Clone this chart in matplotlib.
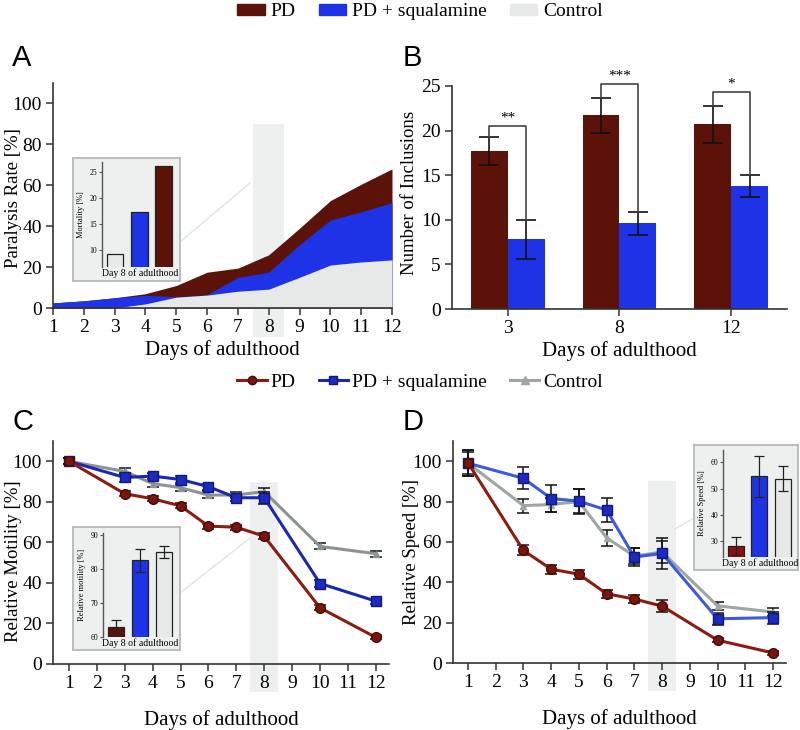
import matplotlib
matplotlib.use("Agg")
import matplotlib.pyplot as plt
from matplotlib.patches import Patch
from matplotlib.lines import Line2D
import numpy as np

plt.rcParams['font.family'] = ['Liberation Serif', 'DejaVu Serif']

# ---- data ----
days_a = [1, 2, 3, 4, 5, 6, 7, 8, 9, 10, 11, 12]
para_pd = [2.5, 3.5, 5, 7, 11, 17.5, 19.5, 26, 39, 52.5, 60.5, 68]
para_sq = [2.5, 3.5, 5, 6.2, 5.5, 6.5, 15, 17.5, 31, 43, 47, 51.5]
para_ctrl = [0, 0, 0, 2, 5.3, 6.3, 8.2, 9.2, 15, 21, 22.5, 23.5]
mort_vals = [9.2, 17.4, 26.3]  # control, PD + squalamine, PD

incl_days = ['3', '8', '12']
incl_pd = [17.7, 21.7, 20.7]
incl_pd_err = [1.6, 1.95, 2.1]
incl_sq = [7.8, 9.6, 13.8]
incl_sq_err = [2.2, 1.25, 1.2]
incl_stars = ['**', '***', '*']
incl_bracket = [20.5, 25.2, 24.3]

days_c = [1, 3, 4, 5, 6, 7, 8, 10, 12]
mot_pd = [100, 84, 81.5, 78, 68, 67.5, 63, 27.7, 13.1]
mot_pd_err = [1.5, 1.2, 1.2, 1.2, 1.2, 1.2, 1.5, 1.2, 1]
mot_sq = [100, 92, 92.7, 91, 87.5, 82, 82, 39.7, 31]
mot_sq_err = [1.5, 2, 1.5, 1.5, 1.5, 1.5, 3, 1.5, 1.2]
mot_ctrl = [100, 95, 89, 87, 83.3, 83.4, 85, 58, 54.4]
mot_ctrl_err = [1.5, 1.5, 1.5, 1.5, 1.5, 1.5, 2, 1.5, 1.5]
mot_inset = [63, 82.5, 85]  # PD, PD + squalamine, control
mot_inset_err = [2, 3.3, 1.8]

spd_pd = [99.2, 55.8, 46.5, 44, 34.3, 31.7, 28.2, 11.3, 5]
spd_pd_err = [6.5, 2.5, 2.2, 2.2, 2, 2, 3, 1, 0.8]
spd_sq = [99, 91.5, 81.5, 80.2, 75.8, 52.5, 54.3, 21.9, 22.5]
spd_sq_err = [5.5, 5.5, 6.5, 6, 6, 4.5, 7.5, 3, 3]
spd_ctrl = [99, 78, 78.5, 80, 62, 53, 55, 28.3, 25.3]
spd_ctrl_err = [6.5, 3.5, 3.5, 6, 4, 4, 5.5, 2, 2]
spd_inset = [28.2, 54.7, 53.8]
spd_inset_err = [3.5, 7.7, 4.8]

# colours
c_pd = '#5a1209'
c_sq = '#1f33e6'
c_ctrl = '#e7e9e9'
band_col = '#eef0f0'
frame_face = '#eef0f0'
frame_edge = '#b4b9b9'

fig = plt.figure(figsize=(8, 7.3), dpi=100)
W, H = 800, 730


def fpos(x0, y0, x1, y1):
    # pixel box (left, top, right, bottom) -> figure fraction rect
    return [x0 / W, 1 - y1 / H, (x1 - x0) / W, (y1 - y0) / H]


def style(ax, fs=14):
    for s in ['top', 'right']:
        ax.spines[s].set_visible(False)
    for s in ['left', 'bottom']:
        ax.spines[s].set_color('#333333')
        ax.spines[s].set_linewidth(1.2)
    ax.tick_params(direction='out', length=5, width=1.1, color='#333333',
                   labelsize=fs, pad=3)


def ylab(ax, text, right_px, left_px, width_px, y=0.5):
    # place y label so its right edge sits at a given pixel column
    ax.set_ylabel(text, fontsize=13.5)
    ax.yaxis.set_label_coords((right_px - left_px) / width_px, y)


def band(ax):
    r = plt.Rectangle((7.5, -14), 1, 104, facecolor=band_col, edgecolor='none',
                      zorder=0.5, clip_on=False)
    ax.add_patch(r)


def inset(frame_px, ax_px, vals, colors, yl, yticks, ylabel, err=None):
    fr = fig.add_axes(fpos(*frame_px), zorder=5)
    fr.set_facecolor(frame_face)
    fr.set_xticks([])
    fr.set_yticks([])
    for s in fr.spines.values():
        s.set_color(frame_edge)
        s.set_linewidth(1.3)
    ia = fig.add_axes(fpos(*ax_px), zorder=6)
    ia.patch.set_alpha(0)
    x = np.arange(len(vals))
    ia.bar(x, vals, width=0.68, color=colors, edgecolor='#222222', linewidth=0.9,
           yerr=err, capsize=3.5, error_kw=dict(elinewidth=0.9, ecolor='#222222', capthick=0.9))
    ia.set_ylim(*yl)
    ia.set_xlim(-0.55, 2.6)
    ia.set_yticks(yticks)
    ia.set_xticks([])
    for s in ['top', 'right', 'bottom']:
        ia.spines[s].set_visible(False)
    ia.spines['left'].set_color('#555555')
    ia.spines['left'].set_linewidth(1.0)
    ia.tick_params(axis='y', length=2, width=0.8, labelsize=5.5, pad=1.5, color='#555555')
    ia.set_ylabel(ylabel, fontsize=6, labelpad=3)
    ia.set_xlabel('Day 8 of adulthood', fontsize=7, labelpad=1)
    return ia


def connector(p0, p1):
    fig.add_artist(Line2D([p0[0] / W, p1[0] / W], [1 - p0[1] / H, 1 - p1[1] / H],
                          transform=fig.transFigure, color='#e2e4e4', lw=1.0, zorder=1))


# ---- panel A ----
axA = fig.add_axes(fpos(53, 83, 392, 308))
style(axA)
band(axA)
axA.fill_between(days_a, 0, para_pd, color=c_pd, lw=0, zorder=1)
axA.fill_between(days_a, 0, para_sq, color=c_sq, lw=0, zorder=1.1)
axA.fill_between(days_a, 0, para_ctrl, color=c_ctrl, lw=0, zorder=1.2)
axA.set_xlim(1, 12)
axA.set_ylim(0, 110)
axA.set_xticks(days_a)
axA.set_yticks(range(0, 101, 20))
axA.set_xlabel('Days of adulthood', fontsize=15, labelpad=3)
ylab(axA, 'Paralysis Rate [%]', 22, 53, 339, y=0.49)
inset((73, 158, 180, 281), (102, 162, 178, 267), mort_vals, [c_ctrl, c_sq, c_pd],
      (6.7, 27), [10, 15, 20, 25], 'Mortality [%]')
connector((180, 242), (250, 183))

# ---- panel B ----
axB = fig.add_axes(fpos(452, 86, 787, 309))
style(axB)
xb = np.arange(len(incl_days))
bw = 0.33
ekw = dict(elinewidth=1.2, ecolor='#111111', capthick=1.2)
axB.bar(xb - bw / 2, incl_pd, bw, color=c_pd, yerr=incl_pd_err, capsize=7, error_kw=ekw)
axB.bar(xb + bw / 2, incl_sq, bw, color=c_sq, yerr=incl_sq_err, capsize=7, error_kw=ekw)
for i in range(len(incl_days)):
    top = incl_bracket[i]
    l = incl_pd[i] + incl_pd_err[i]
    r = incl_sq[i] + incl_sq_err[i]
    axB.plot([xb[i] - bw / 2, xb[i] - bw / 2, xb[i] + bw / 2, xb[i] + bw / 2],
             [l, top, top, r], color='#444444', lw=1.2, clip_on=False)
    axB.text(xb[i], top + 0.2, incl_stars[i], ha='center', va='bottom', fontsize=11)
axB.set_xlim(-0.5, 2.5)
axB.set_ylim(0, 25)
axB.set_xticks(xb)
axB.set_xticklabels(incl_days)
axB.set_yticks(range(0, 26, 5))
axB.set_xlabel('Days of adulthood', fontsize=15, labelpad=3)
ylab(axB, 'Number of Inclusions', 418, 452, 335, y=0.52)

# ---- panel C ----
axC = fig.add_axes(fpos(53, 441, 389, 664))
style(axC)
band(axC)
ebkw = dict(capsize=4, elinewidth=1.1, ecolor='#111111', capthick=1.1)
axC.errorbar(days_c, mot_ctrl, yerr=mot_ctrl_err, color='#8d9393', lw=2.2, marker='^',
             ms=5, mfc='#8d9393', mec='#8d9393', zorder=3, **ebkw)
axC.errorbar(days_c, mot_sq, yerr=mot_sq_err, color='#1b28b0', lw=2.2, marker='s',
             ms=7, mfc='#1b2bc0', mec='#10187a', zorder=4, **ebkw)
axC.errorbar(days_c, mot_pd, yerr=mot_pd_err, color='#8a1c12', lw=2.2, marker='o',
             ms=7, mfc='#7a150d', mec='#4a0a05', zorder=5, **ebkw)
axC.set_xlim(0.43, 12.47)
axC.set_ylim(0, 110)
axC.set_xticks(days_a)
axC.set_yticks(range(0, 101, 20))
axC.set_xlabel('Days of adulthood', fontsize=15, labelpad=13)
ylab(axC, 'Relative Motility [%]', 22, 53, 336, y=0.46)
inset((73, 527, 180, 650), (103, 533, 178, 637), mot_inset, ['#5b120b', c_sq, c_ctrl],
      (60, 90.5), [60, 70, 80, 90], 'Relative motility [%]', err=mot_inset_err)
connector((180, 593), (250, 538))

# ---- panel D ----
axD = fig.add_axes(fpos(453, 441, 786, 663))
style(axD)
band(axD)
axD.errorbar(days_c, spd_ctrl, yerr=spd_ctrl_err, color='#a0a5a5', lw=2.2, marker='^',
             ms=5, mfc='#a0a5a5', mec='#a0a5a5', zorder=3, **ebkw)
axD.errorbar(days_c, spd_sq, yerr=spd_sq_err, color='#3d5ad8', lw=2.2, marker='s',
             ms=7, mfc='#1b2bc0', mec='#10187a', zorder=4, **ebkw)
axD.errorbar(days_c, spd_pd, yerr=spd_pd_err, color='#8a1c12', lw=2.2, marker='o',
             ms=7, mfc='#7a150d', mec='#4a0a05', zorder=5, **ebkw)
axD.set_xlim(0.46, 12.47)
axD.set_ylim(0, 110)
axD.set_xticks(days_a)
axD.set_yticks(range(0, 101, 20))
axD.set_xlabel('Days of adulthood', fontsize=15, labelpad=13)
ylab(axD, 'Relative Speed [%]', 420, 453, 333, y=0.5)
inset((694, 445, 798, 570), (723, 450, 797, 557), spd_inset, ['#8b1010', c_sq, c_ctrl],
      (24, 64.7), [30, 40, 50, 60], 'Relative Speed [%]', err=spd_inset_err)
connector((675, 529), (694, 518))

# ---- panel letters ----
for lbl, x, y in [('A', 12, 44), ('B', 403, 44), ('C', 12, 408), ('D', 403, 408)]:
    fig.text(x / W, 1 - y / H, lbl, family=['Liberation Sans', 'DejaVu Sans'],
             fontsize=21, va='top', ha='left')

# ---- legends ----
h1 = [Patch(color=c_pd), Patch(color=c_sq), Patch(color=c_ctrl)]
fig.legend(h1, ['PD', 'PD + squalamine', 'Control'], loc='center', ncol=3,
           bbox_to_anchor=(0.525, 1 - 12 / H), frameon=False, fontsize=14,
           handlelength=1.4, handleheight=0.45, handletextpad=0.3, columnspacing=1.2)
h2 = [Line2D([], [], color='#8a1c12', lw=2.2, marker='o', ms=6, mfc='#7a150d', mec='#4a0a05'),
      Line2D([], [], color='#1b28b0', lw=2.2, marker='s', ms=6, mfc='#1b2bc0', mec='#10187a'),
      Line2D([], [], color='#a0a5a5', lw=2.2, marker='^', ms=6)]
fig.legend(h2, ['PD', 'PD + squalamine', 'Control'], loc='center', ncol=3,
           bbox_to_anchor=(0.525, 1 - 382 / H), frameon=False, fontsize=14,
           handlelength=1.5, handletextpad=0.2, columnspacing=1.2)

fig.savefig('out.png', dpi=100)
